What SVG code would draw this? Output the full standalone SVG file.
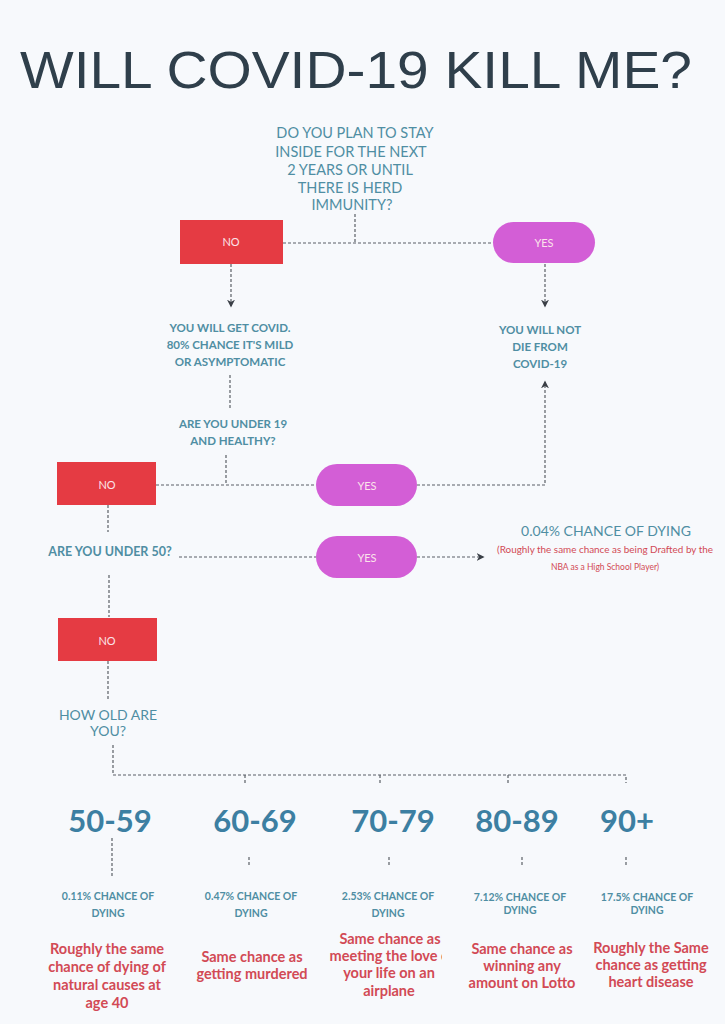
<svg xmlns="http://www.w3.org/2000/svg" width="725" height="1024" viewBox="0 0 725 1024">
<defs>
<style>
.dash{fill:none;stroke:#5a5f66;stroke-width:1.2;stroke-dasharray:3 2}
.q{font-family:Lato,"Noto Sans",sans-serif;fill:#4f8ea3;text-anchor:middle}
.qb{font-family:Lato,"Noto Sans",sans-serif;fill:#4f8ea3;text-anchor:middle;font-weight:bold}
.no{fill:#e53b43}
.yes{fill:#d35ed6}
.lbl{font-family:Lato,"Noto Sans",sans-serif;font-size:11px;fill:#fbe3ea;text-anchor:middle}
.age{font-family:Lato,"Noto Sans",sans-serif;font-size:31px;font-weight:bold;fill:#3c7fa2;text-anchor:middle}
.red{font-family:Lato,"Noto Sans",sans-serif;font-size:14.5px;font-weight:bold;fill:#d24a55;text-anchor:middle}
</style>
<marker id="arr" viewBox="0 0 10 10" refX="8" refY="5" markerWidth="8" markerHeight="8" markerUnits="userSpaceOnUse" orient="auto">
<path d="M0,0 L10,5 L0,10 L3,5 Z" fill="#3a3f46"/>
</marker>
<clipPath id="clip3"><rect x="320" y="930" width="122" height="80"/></clipPath>
</defs>
<rect width="725" height="1024" fill="#f7f9fc"/>
<text x="356" y="88" font-family="Liberation Sans, Arial, sans-serif" font-size="52" fill="#2f3f4b" text-anchor="middle" textLength="672" lengthAdjust="spacingAndGlyphs">WILL COVID-19 KILL ME?</text>

<g id="connectors">
<path class="dash" d="M355,214 V244"/>
<path class="dash" d="M283,243 H493"/>
<path class="dash" d="M231,264 V306" marker-end="url(#arr)"/>
<path class="dash" d="M545,264 V306" marker-end="url(#arr)"/>
<path class="dash" d="M230,375 V408"/>
<path class="dash" d="M226,455 V485"/>
<path class="dash" d="M156,485 H316"/>
<path class="dash" d="M417,485 H545 V382" marker-end="url(#arr)"/>
<path class="dash" d="M108,505 V532"/>
<path class="dash" d="M179,557 H316"/>
<path class="dash" d="M417,557 H483" marker-end="url(#arr)"/>
<path class="dash" d="M109,575 V617"/>
<path class="dash" d="M108,661 V700"/>
<path class="dash" d="M113,745 V775 H626 V783"/>
<path class="dash" d="M245,775 V783 M380,775 V783 M508,775 V783"/>
<path class="dash" d="M112,838 V878"/>
<path class="dash" d="M249,857 V867 M389,857 V867 M522,857 V867 M626,857 V867"/>
</g>

<g id="q1">
<text class="q" font-size="14.5" x="355" y="138">DO YOU PLAN TO STAY</text>
<text class="q" font-size="14.5" x="351" y="157">INSIDE FOR THE NEXT</text>
<text class="q" font-size="14.5" x="350" y="175">2 YEARS OR UNTIL</text>
<text class="q" font-size="14.5" x="350" y="193">THERE IS HERD</text>
<text class="q" font-size="14.5" x="352" y="210">IMMUNITY?</text>
</g>
<g id="no1"><rect class="no" x="180" y="220" width="103" height="44"/><text class="lbl" x="231" y="246">NO</text></g>
<g id="yes1"><rect class="yes" x="493" y="222" width="102" height="41" rx="20.5"/><text class="lbl" x="544" y="247">YES</text></g>

<g id="getcovid">
<text class="qb" font-size="11.5" x="230" y="332">YOU WILL GET COVID.</text>
<text class="qb" font-size="11.5" x="230" y="349">80% CHANCE IT'S MILD</text>
<text class="qb" font-size="11.5" x="230" y="366">OR ASYMPTOMATIC</text>
</g>
<g id="notdie">
<text class="qb" font-size="11.5" x="540" y="334">YOU WILL NOT</text>
<text class="qb" font-size="11.5" x="540" y="351">DIE FROM</text>
<text class="qb" font-size="11.5" x="540" y="368">COVID-19</text>
</g>

<g id="q2">
<text class="qb" font-size="11.5" x="233" y="428">ARE YOU UNDER 19</text>
<text class="qb" font-size="11.5" x="233" y="445">AND HEALTHY?</text>
</g>
<g id="no2"><rect class="no" x="57" y="462" width="99" height="43"/><text class="lbl" x="107" y="489">NO</text></g>
<g id="yes2"><rect class="yes" x="316" y="464" width="101" height="42" rx="21"/><text class="lbl" x="367" y="490">YES</text></g>

<g id="q3"><text class="qb" font-size="12.5" x="110" y="556">ARE YOU UNDER 50?</text></g>
<g id="yes3"><rect class="yes" x="316" y="536" width="101" height="42" rx="21"/><text class="lbl" x="367" y="562">YES</text></g>
<g id="under50result">
<text class="q" font-size="14" x="606" y="536">0.04% CHANCE OF DYING</text>
<text font-family="Lato, 'Noto Sans', sans-serif" font-size="8.5" fill="#d24a55" text-anchor="middle" x="605" y="553" textLength="216" lengthAdjust="spacingAndGlyphs">(Roughly the same chance as being Drafted by the</text>
<text font-family="Lato, 'Noto Sans', sans-serif" font-size="8.5" fill="#d24a55" text-anchor="middle" x="605" y="570">NBA as a High School Player)</text>
</g>

<g id="no3"><rect class="no" x="58" y="618" width="99" height="43"/><text class="lbl" x="107" y="645">NO</text></g>
<g id="q4">
<text class="q" font-size="14" x="108" y="720">HOW OLD ARE</text>
<text class="q" font-size="14" x="108" y="736">YOU?</text>
</g>

<g id="age50">
<text class="age" x="110" y="832">50-59</text>
<text class="qb" font-size="10.5" x="108" y="900">0.11% CHANCE OF</text>
<text class="qb" font-size="10.5" x="108" y="917">DYING</text>
<text class="red" x="107" y="954">Roughly the same</text>
<text class="red" x="107" y="972">chance of dying of</text>
<text class="red" x="107" y="990">natural causes at</text>
<text class="red" x="107" y="1008">age 40</text>
</g>
<g id="age60">
<text class="age" x="255" y="832">60-69</text>
<text class="qb" font-size="10.5" x="251" y="900">0.47% CHANCE OF</text>
<text class="qb" font-size="10.5" x="251" y="917">DYING</text>
<text class="red" x="252" y="962">Same chance as</text>
<text class="red" x="252" y="979">getting murdered</text>
</g>
<g id="age70">
<text class="age" x="393" y="832">70-79</text>
<text class="qb" font-size="10.5" x="388" y="900">2.53% CHANCE OF</text>
<text class="qb" font-size="10.5" x="388" y="917">DYING</text>
<text class="red" x="390" y="944">Same chance as</text>
<text class="red" x="392" y="961" clip-path="url(#clip3)">meeting the love of</text>
<text class="red" x="389" y="978">your life on an</text>
<text class="red" x="389" y="996">airplane</text>
</g>
<g id="age80">
<text class="age" x="517" y="832">80-89</text>
<text class="qb" font-size="10.5" x="520" y="901">7.12% CHANCE OF</text>
<text class="qb" font-size="10.5" x="520" y="914">DYING</text>
<text class="red" x="522" y="954">Same chance as</text>
<text class="red" x="522" y="971">winning any</text>
<text class="red" x="522" y="988">amount on Lotto</text>
</g>
<g id="age90">
<text class="age" x="627" y="832">90+</text>
<text class="qb" font-size="10.5" x="647" y="901">17.5% CHANCE OF</text>
<text class="qb" font-size="10.5" x="647" y="914">DYING</text>
<text class="red" x="651" y="953">Roughly the Same</text>
<text class="red" x="651" y="970">chance as getting</text>
<text class="red" x="651" y="987">heart disease</text>
</g>
</svg>
